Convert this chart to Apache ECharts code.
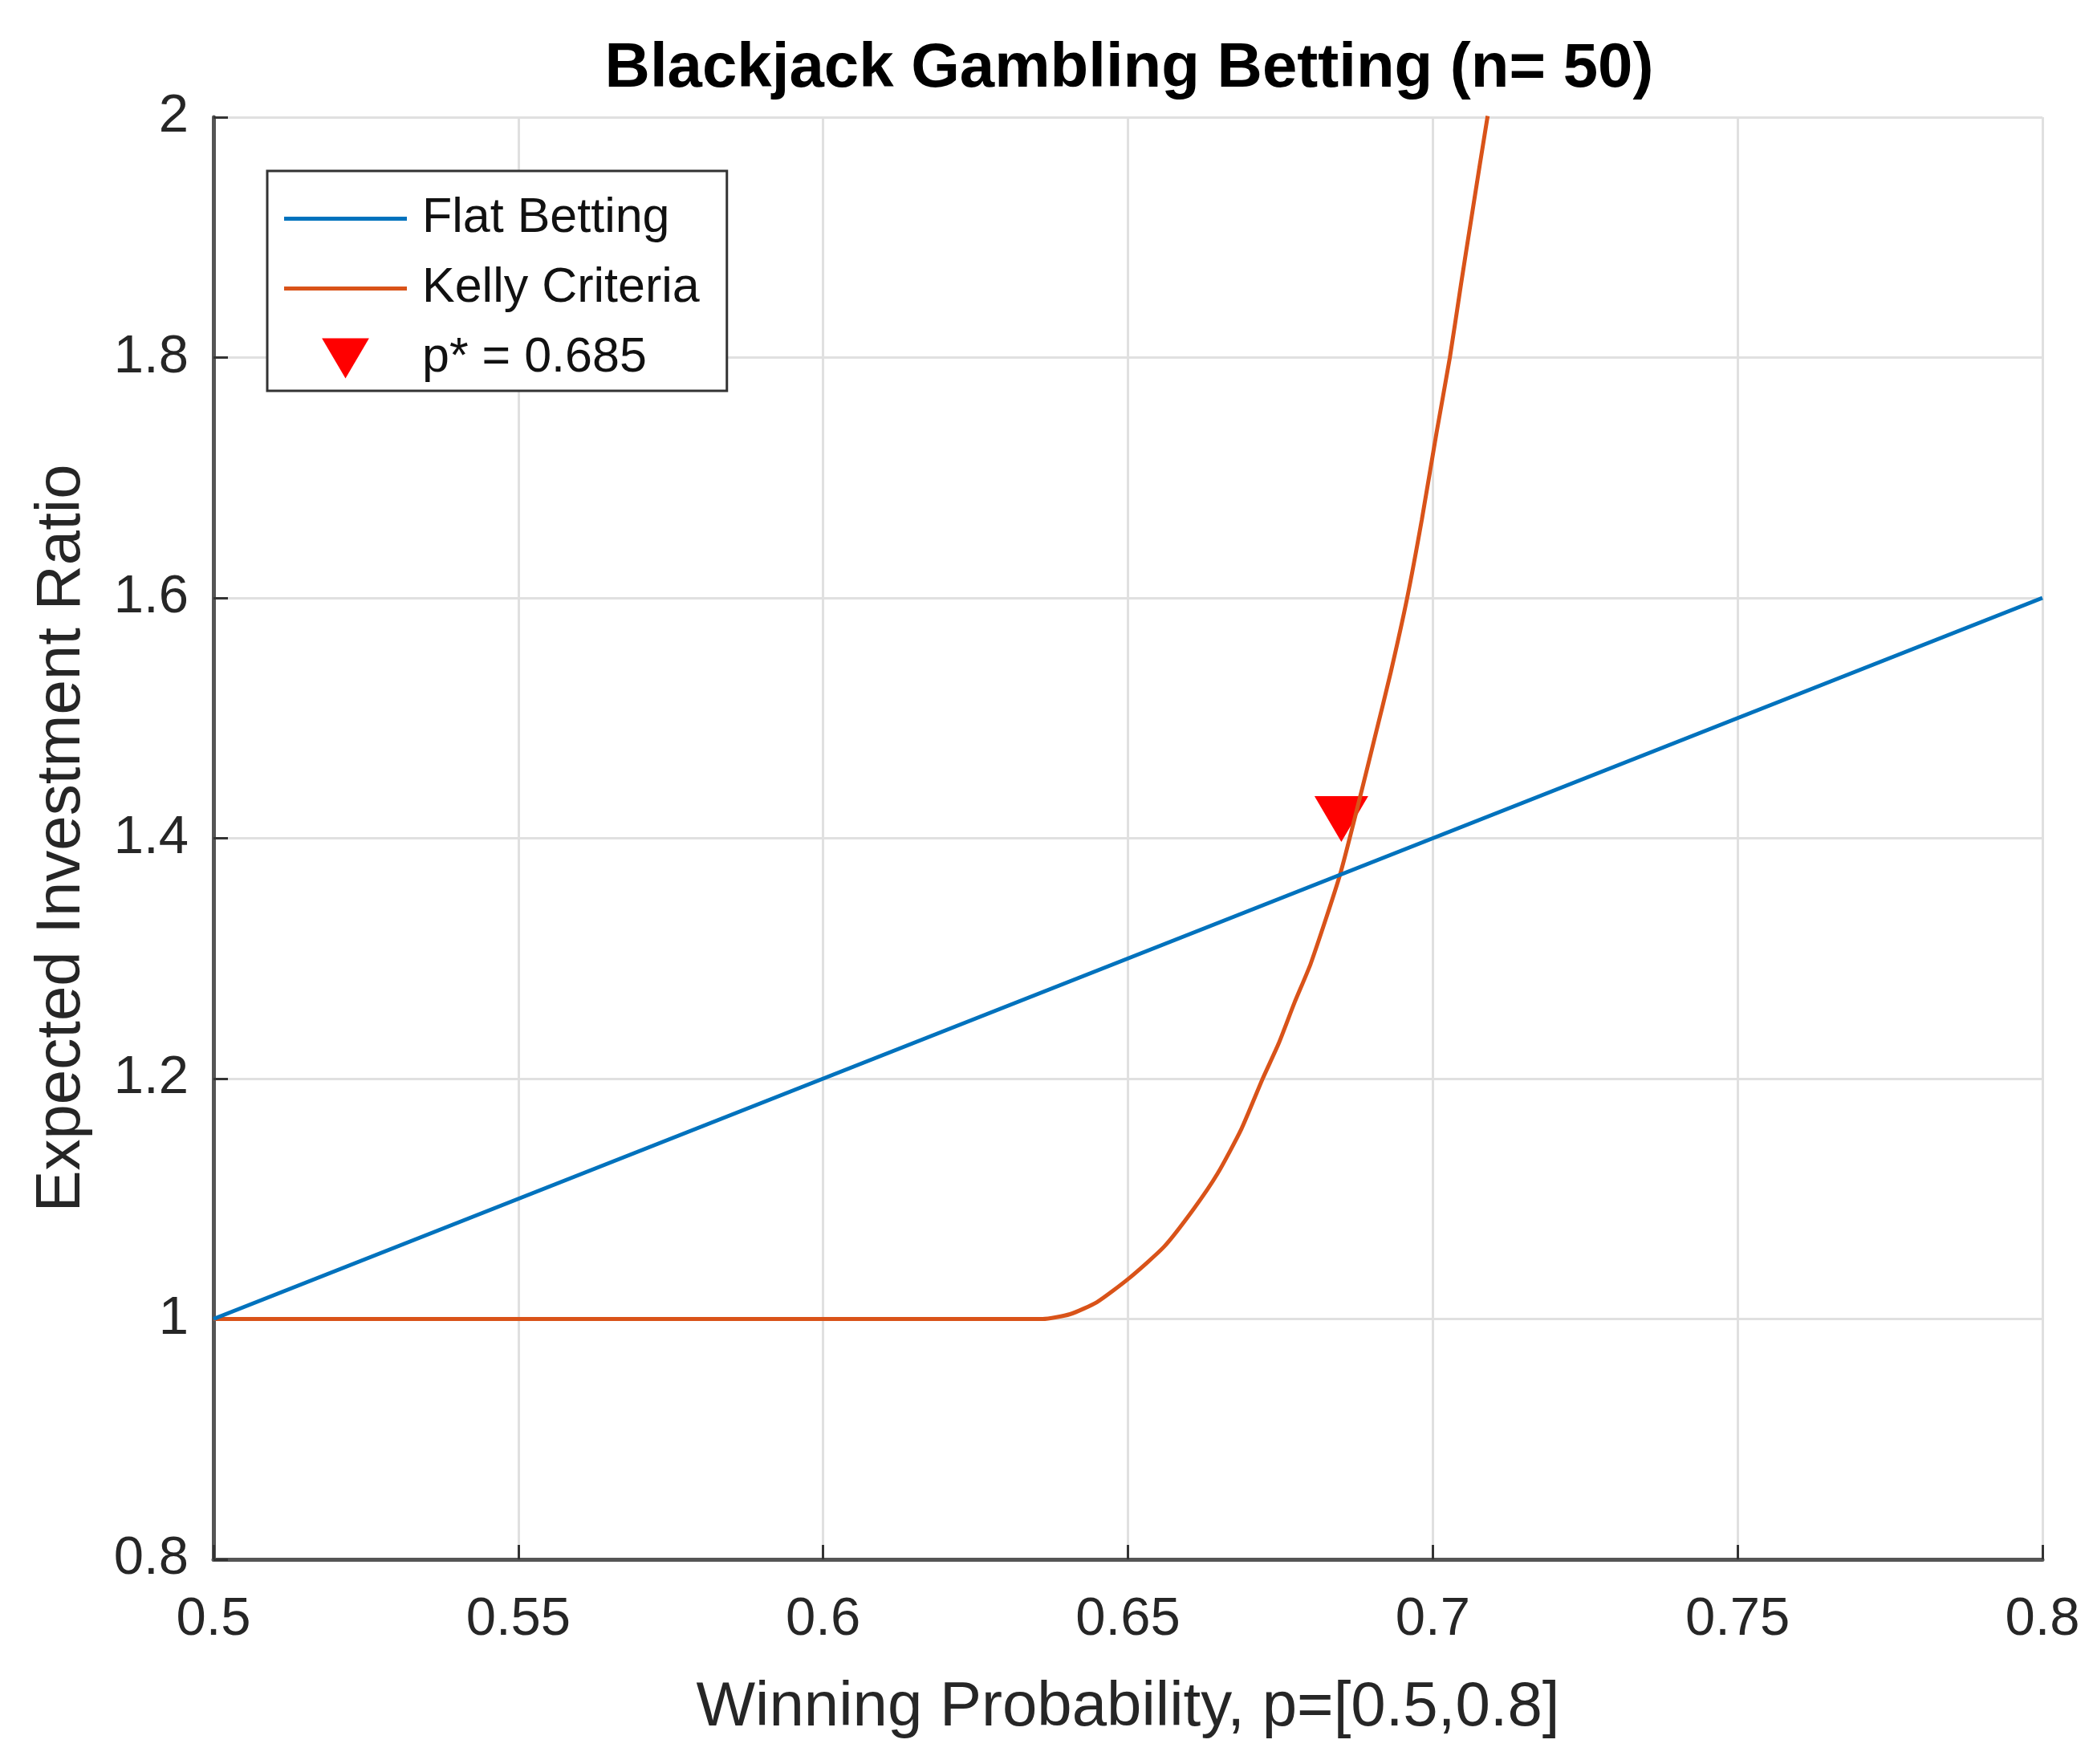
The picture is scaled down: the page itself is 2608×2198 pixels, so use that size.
<!DOCTYPE html>
<html>
<head>
<meta charset="utf-8">
<script src="https://cdn.jsdelivr.net/npm/echarts@6/dist/echarts.min.js"></script>
<style>
  html, body { margin: 0; padding: 0; background: #fff; }
  #chart { width: 2608px; height: 2198px; }
</style>
</head>
<body>
<div id="chart"></div>
<script>
// ---- Data ----
const titleText = 'Blackjack Gambling Betting (n= 50)';
const xAxisName = 'Winning Probability, p=[0.5,0.8]';
const yAxisName = 'Expected Investment Ratio';

const xTickLabels = ['0.5', '0.55', '0.6', '0.65', '0.7', '0.75', '0.8'];
const yTickLabels = ['0.8', '1', '1.2', '1.4', '1.6', '1.8', '2'];

const flatName = 'Flat Betting';
const flatP = [0.5, 0.8];
const flatV = [1.0, 1.6];

const kellyName = 'Kelly Criteria';
const kellyP = [0.5, 0.55, 0.6, 0.636, 0.6405, 0.6449, 0.6502, 0.6559, 0.6607, 0.6647, 0.6686, 0.6721,
                0.6747, 0.6773, 0.68, 0.6848, 0.6884, 0.6905, 0.6931, 0.6958, 0.6982, 0.7006, 0.7028,
                0.7046, 0.7063, 0.7077, 0.709];
const kellyV = [1.0, 1.0, 1.0, 1.0, 1.004, 1.014, 1.034, 1.060, 1.091, 1.121, 1.158, 1.200,
                1.229, 1.263, 1.296, 1.370, 1.441, 1.484, 1.538, 1.600, 1.665, 1.737, 1.800,
                1.860, 1.915, 1.960, 2.001];

const markerName = 'p* = 0.685';
const markerP = [0.685];
const markerV = [1.416];

// ---- Build ----
const zip = (a, b) => a.map((v, i) => [v, b[i]]);
const triPath = 'path://M0 0L67 0L33.5 57Z';
const lineIcon = 'path://M0 0H153V5H0Z';
const FONT = '"Liberation Sans", Arial, Helvetica, sans-serif';

const chart = echarts.init(document.getElementById('chart'), null, { renderer: 'canvas' });

function pickLabel(list, v) {
  for (const s of list) { if (Math.abs(parseFloat(s) - v) < 1e-6) return s; }
  return '';
}

chart.setOption({
  animation: false,
  backgroundColor: '#ffffff',
  title: {
    text: titleText,
    left: 1402,
    top: 42,
    textAlign: 'center',
    textStyle: { fontFamily: FONT, fontSize: 78, fontWeight: 'bold', color: '#000000' }
  },
  grid: { left: 266, right: 63, top: 146, bottom: 255, containLabel: false },
  legend: {
    orient: 'vertical',
    left: 333,
    top: 213,
    padding: [29, 34, 10, 21],
    itemWidth: 153,
    itemHeight: 50,
    itemGap: 26,
    selectedMode: false,
    backgroundColor: '#ffffff',
    borderColor: '#333333',
    borderWidth: 3,
    borderRadius: 0,
    symbolKeepAspect: true,
    textStyle: { fontFamily: FONT, fontSize: 61, color: '#111111', padding: [0, 0, 0, 14] },
    data: [
      { name: flatName, icon: lineIcon },
      { name: kellyName, icon: lineIcon },
      { name: markerName, icon: triPath }
    ]
  },
  xAxis: {
    type: 'value',
    min: 0.5, max: 0.8, interval: 0.05,
    name: xAxisName,
    nameLocation: 'middle',
    nameGap: 146,
    nameTextStyle: { fontFamily: FONT, fontSize: 78, color: '#262626' },
    axisLine: { show: true, onZero: false, lineStyle: { color: '#555555', width: 5 } },
    axisTick: { show: true, inside: true, length: 18, lineStyle: { color: '#333333', width: 3 } },
    axisLabel: { margin: 42, fontFamily: FONT, fontSize: 67, color: '#262626',
                 formatter: v => pickLabel(xTickLabels, v) },
    splitLine: { show: true, lineStyle: { color: '#e0e0e0', width: 3 } }
  },
  yAxis: {
    type: 'value',
    min: 0.8, max: 2.0, interval: 0.2,
    name: yAxisName,
    nameLocation: 'middle',
    nameGap: 150,
    nameRotate: 90,
    nameTextStyle: { fontFamily: FONT, fontSize: 78, color: '#262626' },
    axisLine: { show: true, onZero: false, lineStyle: { color: '#555555', width: 5 } },
    axisTick: { show: true, inside: true, length: 18, lineStyle: { color: '#333333', width: 3 } },
    axisLabel: { margin: 31, fontFamily: FONT, fontSize: 67, color: '#262626',
                 formatter: v => pickLabel(yTickLabels, v) },
    splitLine: { show: true, lineStyle: { color: '#e0e0e0', width: 3 } }
  },
  series: [
    {
      name: flatName,
      type: 'line',
      data: zip(flatP, flatV),
      symbol: 'none',
      z: 4,
      lineStyle: { color: '#0072BD', width: 5 },
      itemStyle: { color: '#0072BD' },
      clip: true
    },
    {
      name: kellyName,
      type: 'line',
      data: zip(kellyP, kellyV),
      symbol: 'none',
      smooth: 0.2,
      z: 3,
      lineStyle: { color: '#D95319', width: 5 },
      itemStyle: { color: '#D95319' },
      clip: true
    },
    {
      name: markerName,
      type: 'scatter',
      data: zip(markerP, markerV),
      symbol: triPath,
      symbolSize: [67, 57],
      z: 2,
      itemStyle: { color: '#ff0000', opacity: 1 }
    }
  ]
});
</script>
</body>
</html>
